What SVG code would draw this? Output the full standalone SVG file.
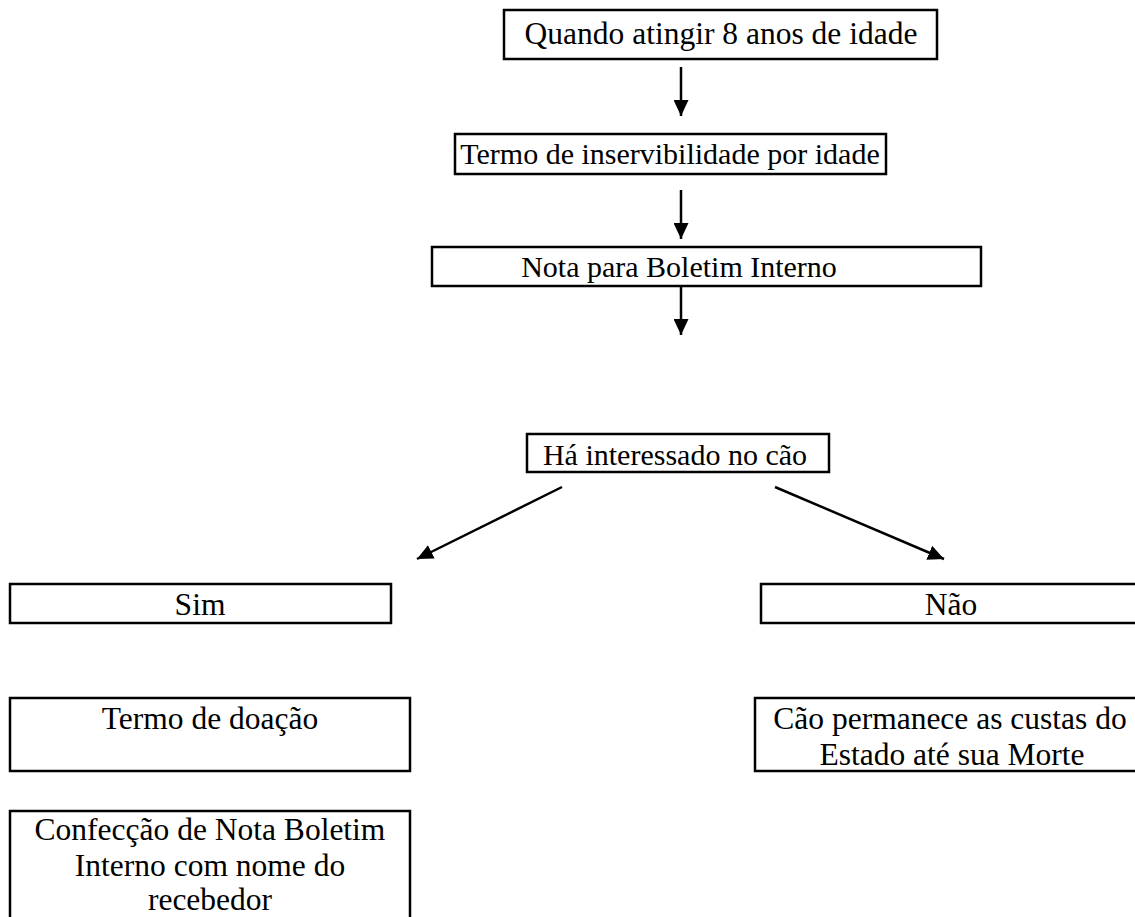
<svg xmlns="http://www.w3.org/2000/svg" width="1135" height="917" viewBox="0 0 1135 917">
<style>
.box{fill:#fff;stroke:#000;stroke-width:2.5}
.t{font-family:"Liberation Serif","Times New Roman",serif;font-size:31.5px;fill:#000;text-anchor:middle}
.m{font-size:30px}
.c{stroke:#000;stroke-width:2.5;fill:none}
</style>
<defs>
<marker id="ah" viewBox="0 0 16 15" refX="16" refY="7.5" markerWidth="16" markerHeight="15" markerUnits="userSpaceOnUse" orient="auto">
<path d="M0,0 L16,7.5 L0,15 Z" fill="#000"/>
</marker>
</defs>
<rect width="1135" height="917" fill="#fff"/>
<g id="n1"><rect class="box" x="504" y="10" width="433" height="49"/><text class="t" x="721" y="44">Quando atingir 8 anos de idade</text></g>
<g id="n2"><rect class="box" x="455" y="134" width="431" height="40"/><text class="t m" x="670" y="164">Termo de inservibilidade por idade</text></g>
<g id="n3"><rect class="box" x="432" y="247" width="549" height="39"/><text class="t m" x="679" y="277">Nota para Boletim Interno</text></g>
<g id="n4"><rect class="box" x="527" y="434" width="302" height="38"/><text class="t m" x="675" y="465">Há interessado no cão</text></g>
<g id="n5"><rect class="box" x="10" y="584" width="381" height="39"/><text class="t" x="200" y="615">Sim</text></g>
<g id="n6"><rect class="box" x="761" y="584" width="390" height="39"/><text class="t" x="951" y="615">Não</text></g>
<g id="n7"><rect class="box" x="10" y="698" width="400" height="73"/><text class="t" x="210" y="729">Termo de doação</text></g>
<g id="n8"><rect class="box" x="755" y="698" width="400" height="73"/><text class="t" x="950" y="729">Cão permanece as custas do</text><text class="t" x="952" y="765">Estado até sua Morte</text></g>
<g id="n9"><rect class="box" x="10" y="811" width="400" height="120"/><text class="t" x="210" y="840">Confecção de Nota Boletim</text><text class="t" x="210" y="876">Interno com nome do</text><text class="t" x="210" y="910">recebedor</text></g>
<g id="connectors">
<line class="c" x1="681" y1="67" x2="681" y2="116" marker-end="url(#ah)"/>
<line class="c" x1="681" y1="190" x2="681" y2="239" marker-end="url(#ah)"/>
<line class="c" x1="681" y1="286" x2="681" y2="335" marker-end="url(#ah)"/>
<line class="c" x1="562" y1="487" x2="417" y2="559" marker-end="url(#ah)"/>
<line class="c" x1="775" y1="487" x2="944" y2="559" marker-end="url(#ah)"/>
</g>
</svg>
